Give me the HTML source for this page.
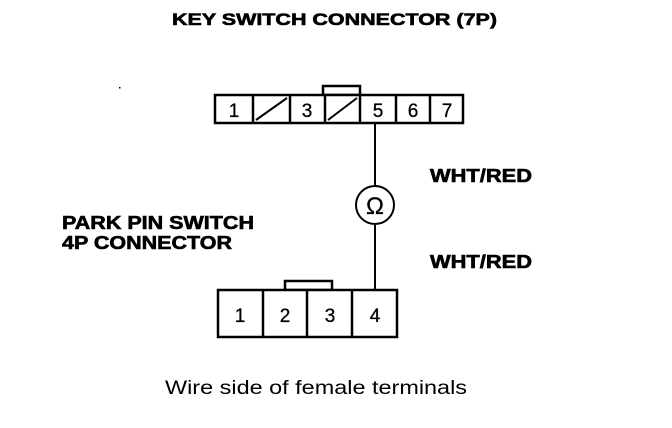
<!DOCTYPE html>
<html><head><style>
body{margin:0;background:#fff}
</style></head><body>
<svg width="672" height="428" viewBox="0 0 672 428" xmlns="http://www.w3.org/2000/svg" style="display:block">
<g font-family="Liberation Sans, sans-serif" fill="#000" font-weight="bold" stroke="#000" stroke-width="0.6">
<text x="172" y="25" font-size="17" textLength="325" lengthAdjust="spacingAndGlyphs">KEY SWITCH CONNECTOR (7P)</text>
<text x="430" y="182" font-size="18" textLength="102" lengthAdjust="spacingAndGlyphs">WHT/RED</text>
<text x="430" y="268" font-size="18" textLength="102" lengthAdjust="spacingAndGlyphs">WHT/RED</text>
<text x="62" y="229" font-size="18" textLength="192" lengthAdjust="spacingAndGlyphs">PARK PIN SWITCH</text>
<text x="62" y="249" font-size="18" textLength="170" lengthAdjust="spacingAndGlyphs">4P CONNECTOR</text>
</g>
<text x="165" y="394" font-family="Liberation Sans, sans-serif" font-size="19" textLength="302" lengthAdjust="spacingAndGlyphs">Wire side of female terminals</text>
<g stroke="#000" stroke-width="2.5" fill="none">
<rect x="323" y="86" width="37" height="9"/>
<rect x="215" y="95" width="248" height="28" fill="#fff"/>
<line x1="253" y1="95" x2="253" y2="123"/>
<line x1="290" y1="95" x2="290" y2="123"/>
<line x1="325" y1="95" x2="325" y2="123"/>
<line x1="360" y1="95" x2="360" y2="123"/>
<line x1="396" y1="95" x2="396" y2="123"/>
<line x1="430" y1="95" x2="430" y2="123"/>
<line x1="256" y1="120" x2="287" y2="98" stroke-width="2"/>
<line x1="328" y1="120" x2="357" y2="98" stroke-width="2"/>
<line x1="375" y1="123" x2="375" y2="186" stroke-width="2"/>
<line x1="375" y1="225" x2="375" y2="290" stroke-width="2"/>
<circle cx="375" cy="205" r="19" stroke-width="2"/>
<rect x="285" y="281" width="47" height="9"/>
<rect x="218" y="290" width="179" height="47" fill="#fff"/>
<line x1="263" y1="290" x2="263" y2="337"/>
<line x1="307" y1="290" x2="307" y2="337"/>
<line x1="352" y1="290" x2="352" y2="337"/>
</g>
<g font-family="Liberation Sans, sans-serif" font-size="19" text-anchor="middle" fill="#000" stroke="#000" stroke-width="0.3">
<text x="234" y="117">1</text><text x="307" y="117">3</text><text x="378" y="117">5</text><text x="413" y="117">6</text><text x="447" y="117">7</text>
<text x="240" y="322">1</text><text x="285" y="322">2</text><text x="330" y="322">3</text><text x="375" y="322">4</text>
<text x="375" y="214" font-size="24">Ω</text>
</g>
<rect x="119" y="87" width="1.5" height="1.5" fill="#000"/>
</svg>
</body></html>
